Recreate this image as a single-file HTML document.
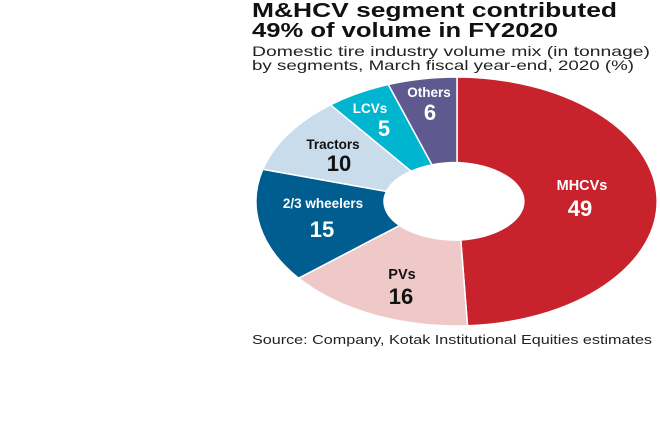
<!DOCTYPE html>
<html><head><style>body{margin:0;background:#fff}svg{display:block}</style></head>
<body>
<svg width="660" height="440" xmlns="http://www.w3.org/2000/svg" font-family="Liberation Sans, sans-serif">
<text x="252" y="17" font-size="20" font-weight="bold" fill="#111" textLength="365" lengthAdjust="spacingAndGlyphs">M&amp;HCV segment contributed</text>
<text x="252" y="37" font-size="20" font-weight="bold" fill="#111" textLength="306" lengthAdjust="spacingAndGlyphs">49% of volume in FY2020</text>
<text x="252" y="56" font-size="14" fill="#222" textLength="398" lengthAdjust="spacingAndGlyphs">Domestic tire industry volume mix (in tonnage)</text>
<text x="252" y="70" font-size="14" fill="#222" textLength="382" lengthAdjust="spacingAndGlyphs">by segments, March fiscal year-end, 2020 (%)</text>
<g stroke="#fff" stroke-width="1.5">
<path d="M457,77 A201,124.5 0 0 1 467.5,325.8 L460.8,240 A73,39 0 0 0 457,162.5 Z" fill="#c8232c"/>
<path d="M467.5,325.8 A201,124.5 0 0 1 298.6,278.2 L399.5,225.5 A73,39 0 0 0 460.8,240 Z" fill="#efc9c8"/>
<path d="M298.6,278.2 A201,124.5 0 0 1 262.8,169.3 L386.5,191.4 A73,39 0 0 0 399.5,225.5 Z" fill="#005d8f"/>
<path d="M262.8,169.3 A201,124.5 0 0 1 330.5,104.8 L411.1,171.2 A73,39 0 0 0 386.5,191.4 Z" fill="#c9dcec"/>
<path d="M330.5,104.8 A201,124.5 0 0 1 388.3,84.5 L432,164.8 A73,39 0 0 0 411.1,171.2 Z" fill="#00b5cf"/>
<path d="M388.3,84.5 A201,124.5 0 0 1 457,77 L457,162.5 A73,39 0 0 0 432,164.8 Z" fill="#5e5a8f"/>
</g>
<g font-weight="bold" text-anchor="middle">
<text x="582" y="190" font-size="14.5" fill="#fff">MHCVs</text>
<text x="580" y="216" font-size="22" fill="#fff">49</text>
<text x="402" y="279" font-size="14.5" fill="#111">PVs</text>
<text x="401" y="304" font-size="22" fill="#111">16</text>
<text x="323" y="208" font-size="13.5" fill="#fff">2/3 wheelers</text>
<text x="322" y="237" font-size="22" fill="#fff">15</text>
<text x="333" y="149" font-size="13.5" fill="#111">Tractors</text>
<text x="339" y="171" font-size="22" fill="#111">10</text>
<text x="370" y="113" font-size="13.5" fill="#fff">LCVs</text>
<text x="384" y="136" font-size="22" fill="#fff">5</text>
<text x="429" y="97" font-size="13.5" fill="#fff">Others</text>
<text x="430" y="120" font-size="22" fill="#fff">6</text>
</g>
<text x="252" y="344" font-size="13" fill="#222" textLength="400" lengthAdjust="spacingAndGlyphs">Source: Company, Kotak Institutional Equities estimates</text>
</svg>
</body></html>
